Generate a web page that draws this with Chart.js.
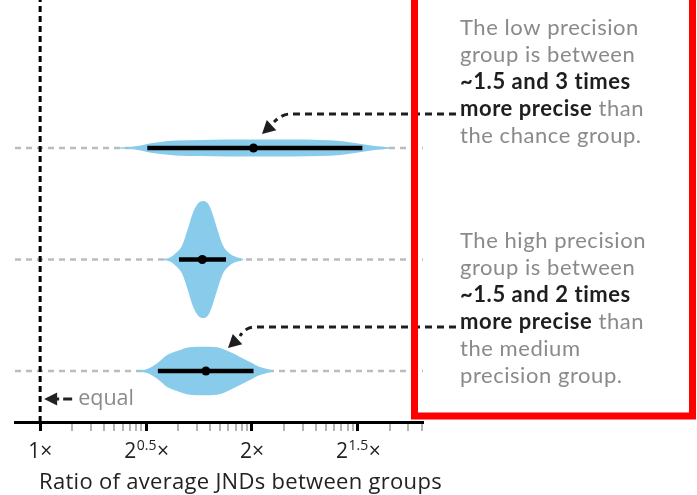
<!DOCTYPE html>
<html>
<head>
<meta charset="utf-8">
<script src="https://cdn.jsdelivr.net/npm/chart.js@4.4.1/dist/chart.umd.min.js"></script>
<style>
  html, body { margin: 0; padding: 0; background: #fff; }
  #wrap { width: 697px; height: 495px; }
</style>
</head>
<body>
<div id="wrap"><canvas id="c" width="697" height="495"></canvas></div>
<script>
// Group comparisons, top to bottom, and the row each one sits on
const comparisons = ['low / chance', 'medium / low', 'high / medium'];
const rowLevels = [3, 2, 1];

// Violin outlines: ratio positions and half-widths (row units)
const lowChanceRatio = [1.29, 1.34, 1.39, 1.43, 1.48, 1.56, 1.69, 1.86, 2.05, 2.27, 2.50, 2.67, 2.80, 2.89, 2.99, 3.09, 3.16];
const lowChanceHalf  = [0.004, 0.009, 0.022, 0.040, 0.054, 0.067, 0.072, 0.076, 0.076, 0.076, 0.072, 0.063, 0.045, 0.031, 0.018, 0.009, 0.004];
const medLowRatio = [1.495, 1.530, 1.555, 1.591, 1.622, 1.649, 1.676, 1.704, 1.732, 1.755, 1.784, 1.819, 1.861, 1.898, 1.942];
const medLowHalf  = [0.004, 0.018, 0.051, 0.126, 0.278, 0.422, 0.502, 0.525, 0.502, 0.422, 0.278, 0.126, 0.051, 0.022, 0.004];
const highMedRatio = [1.373, 1.419, 1.447, 1.480, 1.515, 1.565, 1.633, 1.704, 1.784, 1.861, 1.923, 1.987, 2.053, 2.101, 2.142];
const highMedHalf  = [0.004, 0.018, 0.045, 0.090, 0.143, 0.179, 0.213, 0.218, 0.213, 0.170, 0.126, 0.081, 0.036, 0.018, 0.004];

// Intervals (lower, upper) and medians of the ratio
const intervalLow  = [1.42, 2.87];
const intervalMed  = [1.575, 1.837];
const intervalHigh = [1.47, 2.01];
const medians = [2.01, 1.70, 1.72];

// Axis range and ticks
const xMin = 0.921, xMax = 3.5;
const yMin = 0.543, yMax = 4.327;
const majorTicks = [1, Math.SQRT2, 2, 2 * Math.SQRT2];
const tickBase = ['1', '2', '2', '2'];
const tickExp  = ['', '0.5', '', '1.5'];
const minorSteps = [2, 3, 4, 5, 6, 7, 8, 9];
const axisTitle = 'Ratio of average JNDs between groups';

const noteLow = [
  [['The low precision', false]],
  [['group is between', false]],
  [['~1.5 and 3 times', true]],
  [['more precise', true], [' than', false]],
  [['the chance group.', false]]
];
const noteHigh = [
  [['The high precision', false]],
  [['group is between', false]],
  [['~1.5 and 2 times', true]],
  [['more precise', true], [' than', false]],
  [['the medium', false]],
  [['precision group.', false]]
];

const VIOLIN = '#88cbea';
const NOTE_FONT = 'Lato, "Noto Sans", sans-serif';
const AXIS_FONT = '"Open Sans", Lato, sans-serif';

function outline(ratio, half, row, sign) {
  return ratio.map((r, i) => ({ x: r, y: row + sign * half[i] }));
}

function violin(ratio, half, row) {
  return [
    { data: outline(ratio, half, row, 1), borderWidth: 0, pointRadius: 0, backgroundColor: VIOLIN,
      fill: '+1', cubicInterpolationMode: 'monotone', order: 2 },
    { data: outline(ratio, half, row, -1), borderWidth: 0, pointRadius: 0, backgroundColor: VIOLIN,
      fill: false, cubicInterpolationMode: 'monotone', order: 2 }
  ];
}

function guide(row) {
  return { data: [{ x: xMin, y: row }, { x: xMax, y: row }], borderColor: '#bcbcbc', borderWidth: 2.5,
    borderDash: [6, 5], pointRadius: 0, fill: false, order: 4 };
}

function interval(iv, row) {
  return { data: [{ x: iv[0], y: row }, { x: iv[1], y: row }], borderColor: '#000', borderWidth: 4.5,
    borderCapStyle: 'butt', pointRadius: 0, fill: false, order: 1 };
}

const datasets = [
  guide(rowLevels[0]), guide(rowLevels[1]), guide(rowLevels[2]),
  { data: [{ x: 1, y: yMin }, { x: 1, y: yMax }], borderColor: '#000', borderWidth: 3,
    borderDash: [6, 4], pointRadius: 0, fill: false, order: 3 },
  ...violin(lowChanceRatio, lowChanceHalf, rowLevels[0]),
  ...violin(medLowRatio, medLowHalf, rowLevels[1]),
  ...violin(highMedRatio, highMedHalf, rowLevels[2]),
  interval(intervalLow, rowLevels[0]),
  interval(intervalMed, rowLevels[1]),
  interval(intervalHigh, rowLevels[2]),
  { data: medians.map((m, i) => ({ x: m, y: rowLevels[i] })), showLine: false, pointRadius: 4.5,
    pointBackgroundColor: '#000', pointBorderWidth: 0, order: 0 }
];

function drawArrowHead(ctx, tipX, tipY, fromX, fromY, len, half) {
  const a = Math.atan2(tipY - fromY, tipX - fromX);
  const bx = tipX - len * Math.cos(a), by = tipY - len * Math.sin(a);
  ctx.beginPath();
  ctx.moveTo(tipX, tipY);
  ctx.lineTo(bx + half * Math.sin(a), by - half * Math.cos(a));
  ctx.lineTo(bx - half * Math.sin(a), by + half * Math.cos(a));
  ctx.closePath();
  ctx.fill();
}

function drawNote(ctx, lines, left, firstBaseline, pitch) {
  ctx.letterSpacing = '0.55px';
  lines.forEach((segs, i) => {
    let xPos = left;
    segs.forEach(([txt, bold]) => {
      ctx.font = (bold ? 'bold ' : '') + '22px ' + NOTE_FONT;
      ctx.fillStyle = bold ? '#1e1e1e' : '#8a8a8a';
      ctx.fillText(txt, xPos, firstBaseline + i * pitch);
      xPos += ctx.measureText(txt).width;
    });
  });
  ctx.letterSpacing = '0px';
}

const decor = {
  id: 'decor',
  afterDraw(chart) {
    const { ctx, chartArea } = chart;
    const xs = chart.scales.x;
    const axisY = chartArea.bottom;
    ctx.save();

    // minor ticks inside each half-octave
    ctx.strokeStyle = '#b4b4b4';
    ctx.lineWidth = 2;
    majorTicks.forEach(base => {
      minorSteps.forEach(m => {
        const v = base * Math.pow(2, 0.5 * Math.log10(m));
        if (v > xMax) return;
        const px = Math.round(xs.getPixelForValue(v));
        ctx.beginPath();
        ctx.moveTo(px, axisY + 2);
        ctx.lineTo(px, axisY + 9);
        ctx.stroke();
      });
    });

    // tick labels with exponents
    ctx.fillStyle = '#222';
    ctx.textBaseline = 'alphabetic';
    majorTicks.forEach((v, i) => {
      ctx.font = '21px ' + AXIS_FONT;
      const wb = ctx.measureText(tickBase[i]).width;
      const wx = ctx.measureText('×').width;
      ctx.font = '14px ' + AXIS_FONT;
      const we = tickExp[i] ? ctx.measureText(tickExp[i]).width : 0;
      let px = xs.getPixelForValue(v) - (wb + we + wx) / 2;
      ctx.font = '21px ' + AXIS_FONT;
      ctx.fillText(tickBase[i], px, 458);
      px += wb;
      if (tickExp[i]) {
        ctx.font = '14px ' + AXIS_FONT;
        ctx.fillText(tickExp[i], px + 0.5, 450);
        px += we + 1;
      }
      ctx.font = '21px ' + AXIS_FONT;
      ctx.fillText('×', px, 458);
    });

    // axis title
    ctx.font = '22px ' + AXIS_FONT;
    ctx.letterSpacing = '0.3px';
    ctx.fillStyle = '#222';
    ctx.fillText(axisTitle, 39, 489);
    ctx.letterSpacing = '0px';

    // "equal" marker next to the reference line
    const x1 = xs.getPixelForValue(1);
    ctx.fillStyle = '#222';
    ctx.strokeStyle = '#222';
    ctx.lineWidth = 3;
    ctx.setLineDash([9, 4]);
    ctx.beginPath();
    ctx.moveTo(x1 + 32, 399);
    ctx.lineTo(x1 + 12, 399);
    ctx.stroke();
    ctx.setLineDash([]);
    drawArrowHead(ctx, x1 + 4, 399, x1 + 20, 399, 13, 6.5);
    ctx.fillStyle = '#8a8a8a';
    ctx.font = '21.5px ' + AXIS_FONT;
    ctx.fillText('equal', x1 + 38, 405);

    // dashed pointers from the notes to the violins
    const pointers = [
      { lineY: 114, bendX: 290, tipX: 262, tipY: 134 },
      { lineY: 327, bendX: 254, tipX: 228, tipY: 348 }
    ];
    ctx.strokeStyle = '#1e1e1e';
    ctx.fillStyle = '#1e1e1e';
    ctx.lineWidth = 3;
    pointers.forEach(p => {
      ctx.setLineDash([7, 5]);
      ctx.beginPath();
      ctx.moveTo(456, p.lineY);
      ctx.lineTo(p.bendX, p.lineY);
      ctx.quadraticCurveTo(p.bendX - 8, p.lineY, p.tipX + 12, p.tipY - 12);
      ctx.stroke();
      ctx.setLineDash([]);
      drawArrowHead(ctx, p.tipX, p.tipY, p.tipX + 14, p.tipY - 13, 13, 7);
    });

    // highlight frame
    ctx.strokeStyle = '#ff0000';
    ctx.lineWidth = 7;
    ctx.strokeRect(414.5, -10, 278, 426);

    // notes
    ctx.textBaseline = 'alphabetic';
    drawNote(ctx, noteLow, 460, 35, 27);
    drawNote(ctx, noteHigh, 460, 248, 27);

    ctx.restore();
  }
};

new Chart(document.getElementById('c'), {
  type: 'line',
  data: { datasets },
  options: {
    responsive: false,
    animation: false,
    layout: { autoPadding: false, padding: { left: 15, right: 697 - 423, top: 0, bottom: 0 } },
    plugins: { legend: { display: false }, tooltip: { enabled: false } },
    scales: {
      x: {
        type: 'logarithmic',
        min: xMin,
        max: xMax,
        position: 'bottom',
        border: { display: true, color: '#000', width: 3 },
        grid: { drawOnChartArea: false, drawTicks: true, tickLength: 9, tickWidth: 3, tickColor: '#000' },
        ticks: { display: false },
        afterBuildTicks: scale => { scale.ticks = majorTicks.map(v => ({ value: v })); },
        afterFit: scale => { scale.height = 73; }
      },
      y: {
        type: 'linear',
        min: yMin,
        max: yMax,
        display: false
      }
    }
  },
  plugins: [decor]
});
</script>
</body>
</html>
